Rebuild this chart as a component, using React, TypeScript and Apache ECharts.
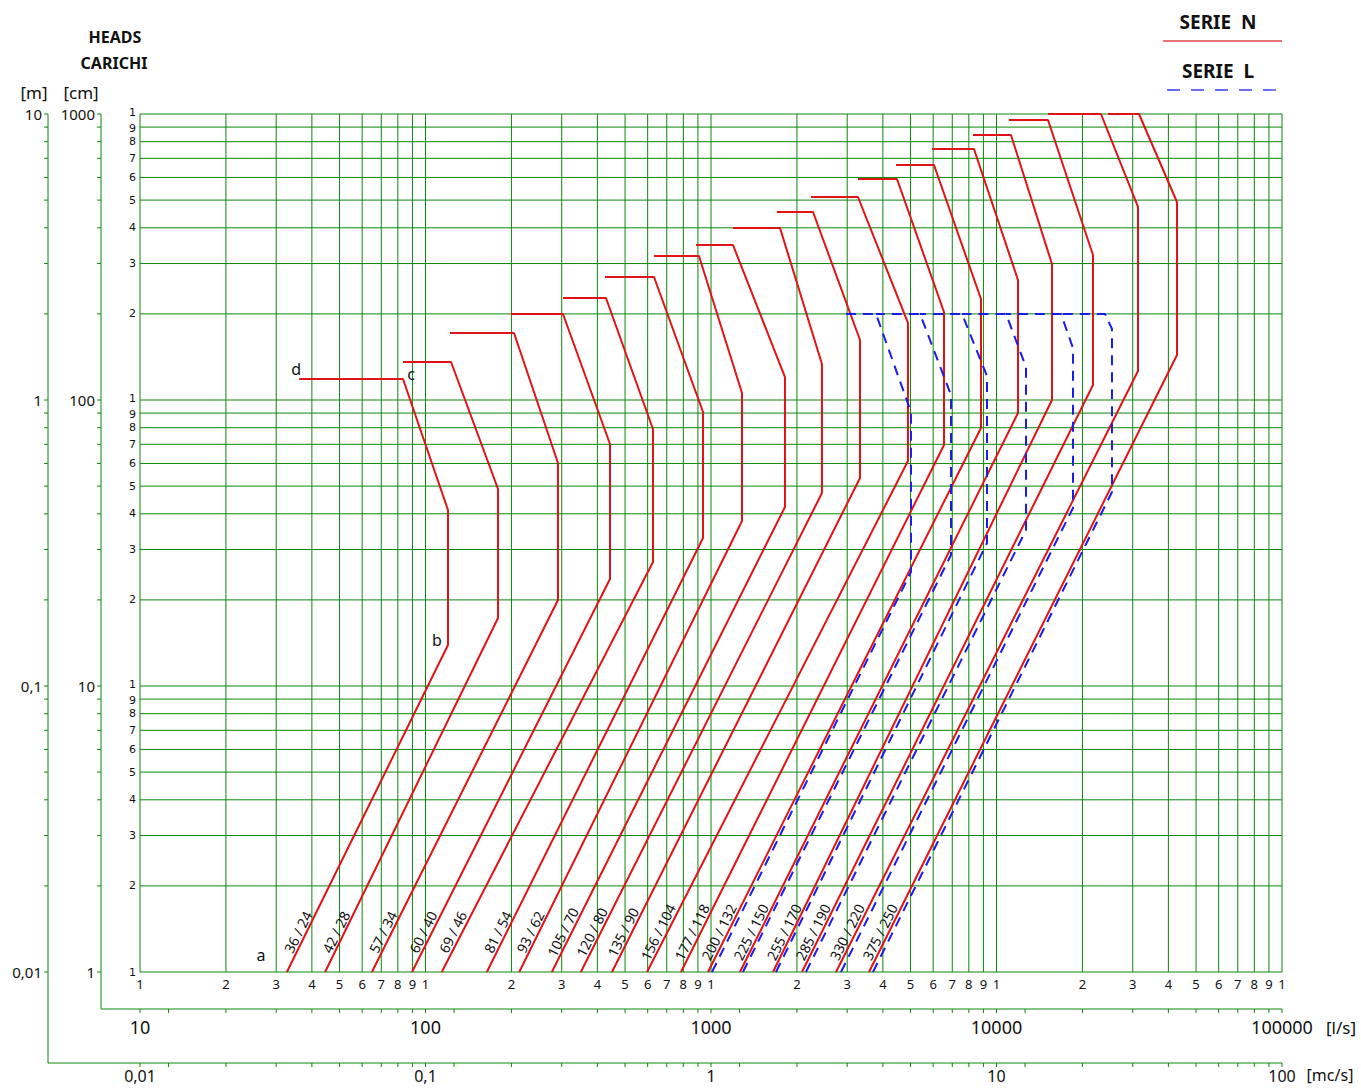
import { useEffect, useRef } from 'react';
import * as echarts from 'echarts';

const FONT = '"Noto Sans", "DejaVu Sans", sans-serif';
const SMALL_FONT = '"DejaVu Sans", "Noto Sans", sans-serif';
const GREEN = '#0a880a';
const RED = '#e01414';
const BLUE = '#1c1ce6';
const TEXT = '#111111';

// axis structure
const MANTISSAS = [1, 2, 3, 4, 5, 6, 7, 8, 9];
const FLOW_DECADES = [10, 100, 1000, 10000];
const FLOW_MIN = 10;
const FLOW_MAX = 100000;
const HEAD_DECADES = [1, 10, 100];
const HEAD_MIN = 1;
const HEAD_MAX = 1000;
// extra small ticks seen on the two outer flow scales
const FLOW_EXTRA_TICKS = [12.59, 125.9, 1259, 12589];

const FLOW_LABEL_VALUES = [10, 100, 1000, 10000, 100000];
const FLOW_LABELS_LS = ['10', '100', '1000', '10000', '100000'];
const FLOW_LABELS_MCS = ['0,01', '0,1', '1', '10', '100'];
const HEAD_LABEL_VALUES = [1, 10, 100, 1000];
const HEAD_LABELS_CM = ['1', '10', '100', '1000'];
const HEAD_LABELS_M = ['0,01', '0,1', '1', '10'];

// SERIE N (red, solid): points a -> b -> top of vertical -> c -> d   (Q in l/s, H in cm)
const N_NAMES = ['36 / 24', '42 / 28', '57 / 34', '60 / 40', '69 / 46', '81 / 54', '93 / 62', '105 / 70', '120 / 80', '135 / 90', '156 / 104', '177 / 118', '200 / 132', '225 / 150', '255 / 170', '285 / 190', '330 / 220', '375 / 250'];
const N_A = [32.7, 44.5, 64.9, 89.7, 114, 164, 213, 277, 350, 450, 597, 785, 976, 1263, 1649, 2083, 2741, 3576];
const N_BX = [119.9, 179.5, 291.1, 442.8, 626.3, 937.6, 1284, 1816, 2447, 3326, 4897, 6548, 8824, 11893, 15645, 21777, 31304, 42877];
const N_BH = [13.91, 17.29, 19.98, 23.66, 27.14, 32.92, 37.75, 42.26, 47.29, 53.37, 61.19, 69.62, 79.8, 90.06, 100, 112.8, 126.3, 143.7];
const N_TOPH = [41.25, 48.84, 60.22, 70.18, 79.17, 90.78, 105.8, 120.3, 133.6, 162.1, 185.9, 203.1, 225.5, 262.8, 298.9, 321.4, 473.0, 492.4];
const N_CX = [83.4, 122.9, 204.2, 303.1, 428.7, 631.6, 907.6, 1194, 1745, 2277, 3272, 4482, 6040, 8340, 11239, 15148, 23227, 31557];
const N_CH = [118.4, 135.8, 171.5, 199.8, 227.3, 269.2, 318.8, 348.3, 399.4, 454.3, 512.6, 592.6, 663.3, 754.6, 844.6, 952.8, 1000, 1000];
const N_DX = [36.1, 83.4, 121.9, 199.3, 303.1, 425.3, 631.6, 886, 1194, 1702, 2240, 3272, 4446, 5943, 8274, 11060, 15148, 24573];

// SERIE L (blue, dashed)
const L_NAMES = ['200 / 132', '225 / 150', '255 / 170', '285 / 190', '330 / 220', '375 / 250'];
const L_A = [1008, 1294, 1689, 2151, 2853, 3693];
const L_BX = [5017, 6928, 9262, 12688, 18532, 25379];
const L_BH = [25.03, 28.71, 31.62, 35.12, 41.92, 47.68];
const L_TOPH = [90.8, 104.1, 121.3, 130.4, 152.0, 177.1];
const L_CX = [3784, 5396, 7572, 10796, 16822, 23990];
const L_CH = [200, 200, 200, 200, 200, 200];
const L_DX = [2971, 3784, 5396, 7572, 10796, 16822];

// height (cm) at which the curve names are written along the lines
const NAME_LABEL_H = 1.38;

const X_TICKS: number[] = FLOW_DECADES.flatMap((d) => MANTISSAS.map((m) => m * d)).concat([FLOW_MAX]);
const X_DIGITS: string[] = FLOW_DECADES.flatMap(() => MANTISSAS.map((m) => String(m))).concat(['1']);
const Y_TICKS: number[] = HEAD_DECADES.flatMap((d) => MANTISSAS.map((m) => m * d)).concat([HEAD_MAX]);
const Y_DIGITS: string[] = HEAD_DECADES.flatMap(() => MANTISSAS.map((m) => String(m))).concat(['1']);

// layout offsets (px) of the outer scales relative to the plot
const CM_OFF = 39;
const M_OFF = 92;
const LS_OFF = 37;
const MCS_OFF = 91;

function renderFrame(_params: any, api: any) {
  const P = (q: number, h: number) => api.coord([q, h]);
  const [xL, yB] = P(FLOW_MIN, HEAD_MIN);
  const [xR, yT] = P(FLOW_MAX, HEAD_MAX);
  const ch: any[] = [];
  const ln = (x1: number, y1: number, x2: number, y2: number, color = GREEN, w = 1) =>
    ch.push({ type: 'line', silent: true, shape: { x1, y1, x2, y2 }, style: { stroke: color, lineWidth: w } });
  const tx = (x: number, y: number, t: string, align: string, size: number, rot = 0, vAlign = 'middle', family = FONT) =>
    ch.push({
      type: 'text', silent: true, x, y, rotation: rot,
      style: {
        text: t, fill: TEXT, fontSize: size, fontFamily: family, lineHeight: size,
        align, verticalAlign: vAlign, textAlign: align, textVerticalAlign: vAlign,
      },
    });

  X_TICKS.forEach((v, i) => {
    const x = P(v, HEAD_MIN)[0];
    ln(x, yT, x, yB);
    tx(x, yB + 12, X_DIGITS[i], 'center', 13);
    ln(x, yB + LS_OFF, x, yB + LS_OFF + 4);
    ln(x, yB + MCS_OFF, x, yB + MCS_OFF + 4);
  });
  FLOW_EXTRA_TICKS.forEach((v) => {
    const x = P(v, HEAD_MIN)[0];
    ln(x, yB + LS_OFF, x, yB + LS_OFF + 4);
    ln(x, yB + MCS_OFF, x, yB + MCS_OFF + 4);
  });
  Y_TICKS.forEach((h, i) => {
    const y = P(FLOW_MIN, h)[1];
    ln(xL, y, xR, y);
    // the decade "1" and the crowded "9" are nudged apart so they do not collide
    const nudge = Y_DIGITS[i] === '1' && h > HEAD_MIN ? -1.5 : Y_DIGITS[i] === '9' ? 1 : 0;
    tx(xL - 4, y + nudge, Y_DIGITS[i], 'right', 11, 0, 'middle', SMALL_FONT);
    ln(xL - CM_OFF - 4, y, xL - CM_OFF, y);
    ln(xL - M_OFF - 4, y, xL - M_OFF, y);
  });
  // outer frames
  ln(xL - CM_OFF, yT, xL - CM_OFF, yB + LS_OFF);
  ln(xL - CM_OFF, yB + LS_OFF, xR, yB + LS_OFF);
  ln(xL - M_OFF, yT, xL - M_OFF, yB + MCS_OFF);
  ln(xL - M_OFF, yB + MCS_OFF, xR, yB + MCS_OFF);

  FLOW_LABEL_VALUES.forEach((v, i) => {
    const x = P(v, HEAD_MIN)[0];
    tx(x, yB + 55, FLOW_LABELS_LS[i], 'center', 18);
    tx(x, yB + 104, FLOW_LABELS_MCS[i], 'center', 16);
  });
  tx(xR + 59, yB + 55, '[l/s]', 'center', 17);
  tx(xR + 48, yB + 103, '[mc/s]', 'center', 16);

  HEAD_LABEL_VALUES.forEach((h, i) => {
    const y = P(FLOW_MIN, h)[1];
    tx(xL - CM_OFF - 6, y, HEAD_LABELS_CM[i], 'right', 15);
    tx(xL - M_OFF - 6, y, HEAD_LABELS_M[i], 'right', 15);
  });

  // curve names along the lines
  const ang = Math.atan(2);
  N_NAMES.forEach((name, i) => {
    const p = P(N_A[i] * Math.sqrt(NAME_LABEL_H), NAME_LABEL_H);
    tx(p[0] - 9, p[1], name, 'center', 14, ang);
  });

  // point letters on the first curve
  const pa = P(N_A[0], HEAD_MIN);
  const pb = P(N_BX[0], N_BH[0]);
  const pc = P(N_CX[0], N_CH[0]);
  const pd = P(N_DX[0], N_CH[0]);
  tx(pa[0] - 26, pa[1] - 17, 'a', 'center', 16);
  tx(pb[0] - 11, pb[1] - 5, 'b', 'center', 16);
  tx(pc[0] + 8, pc[1] - 5, 'c', 'center', 16);
  tx(pd[0] - 3, pd[1] - 10, 'd', 'center', 16);

  return { type: 'group', children: ch };
}

const nSeries = N_NAMES.map((name, i) => ({
  type: 'line',
  name: 'N ' + name,
  data: [[N_A[i], HEAD_MIN], [N_BX[i], N_BH[i]], [N_BX[i], N_TOPH[i]], [N_CX[i], N_CH[i]], [N_DX[i], N_CH[i]]],
  showSymbol: false,
  symbol: 'none',
  clip: false,
  silent: true,
  z: 4,
  lineStyle: { color: RED, width: 2 },
}));

const lSeries = L_NAMES.map((name, i) => ({
  type: 'line',
  name: 'L ' + name,
  data: [[L_A[i], HEAD_MIN], [L_BX[i], L_BH[i]], [L_BX[i], L_TOPH[i]], [L_CX[i], L_CH[i]], [L_DX[i], L_CH[i]]],
  showSymbol: false,
  symbol: 'none',
  clip: false,
  silent: true,
  z: 5,
  lineStyle: { color: BLUE, width: 2, type: [10, 7] },
}));

const txtStyle = (text: string, size: number, weight = 'normal') => ({
  text, fill: TEXT, fontSize: size, fontWeight: weight, fontFamily: FONT,
  align: 'center', verticalAlign: 'middle', textAlign: 'center', textVerticalAlign: 'middle',
});

const option: any = {
  animation: false,
  backgroundColor: '#ffffff',
  textStyle: { fontFamily: FONT },
  grid: { left: 140, top: 114, width: 1142, height: 858, containLabel: false },
  xAxis: {
    type: 'log', logBase: 10, min: FLOW_MIN, max: FLOW_MAX,
    axisLine: { show: false }, axisTick: { show: false }, axisLabel: { show: false }, splitLine: { show: false },
  },
  yAxis: {
    type: 'log', logBase: 10, min: HEAD_MIN, max: HEAD_MAX,
    axisLine: { show: false }, axisTick: { show: false }, axisLabel: { show: false }, splitLine: { show: false },
  },
  graphic: [
    { type: 'text', x: 115, y: 37, style: txtStyle('HEADS', 16, 'bold') },
    { type: 'text', x: 114, y: 63, style: txtStyle('CARICHI', 16, 'bold') },
    { type: 'text', x: 34, y: 92, style: txtStyle('[m]', 17) },
    { type: 'text', x: 81, y: 92, style: txtStyle('[cm]', 17) },
    { type: 'text', x: 1218, y: 22, style: txtStyle('SERIE  N', 19, 'bold') },
    { type: 'line', shape: { x1: 1163, y1: 41, x2: 1282, y2: 41 }, style: { stroke: '#e24848', lineWidth: 1.3 } },
    { type: 'text', x: 1218, y: 71, style: txtStyle('SERIE  L', 19, 'bold') },
    { type: 'line', shape: { x1: 1167, y1: 90, x2: 1278, y2: 90 }, style: { stroke: '#3a3aee', lineWidth: 1.3, lineDash: [13, 11] } },
  ],
  series: [
    {
      type: 'custom',
      coordinateSystem: 'cartesian2d',
      data: [[FLOW_MIN, HEAD_MIN]],
      renderItem: renderFrame,
      clip: false,
      silent: true,
      z: 1,
    },
    ...nSeries,
    ...lSeries,
  ],
};

export default function App() {
  const ref = useRef<HTMLDivElement>(null);
  useEffect(() => {
    document.body.style.margin = '0';
    document.body.style.overflow = 'hidden';
    const chart = echarts.init(ref.current as HTMLDivElement, null, { renderer: 'svg' });
    chart.setOption(option);
    return () => chart.dispose();
  }, []);
  return (
    <div
      ref={ref}
      style={{ position: 'absolute', left: 0, top: 0, width: 1361, height: 1088, background: '#ffffff' }}
    />
  );
}
